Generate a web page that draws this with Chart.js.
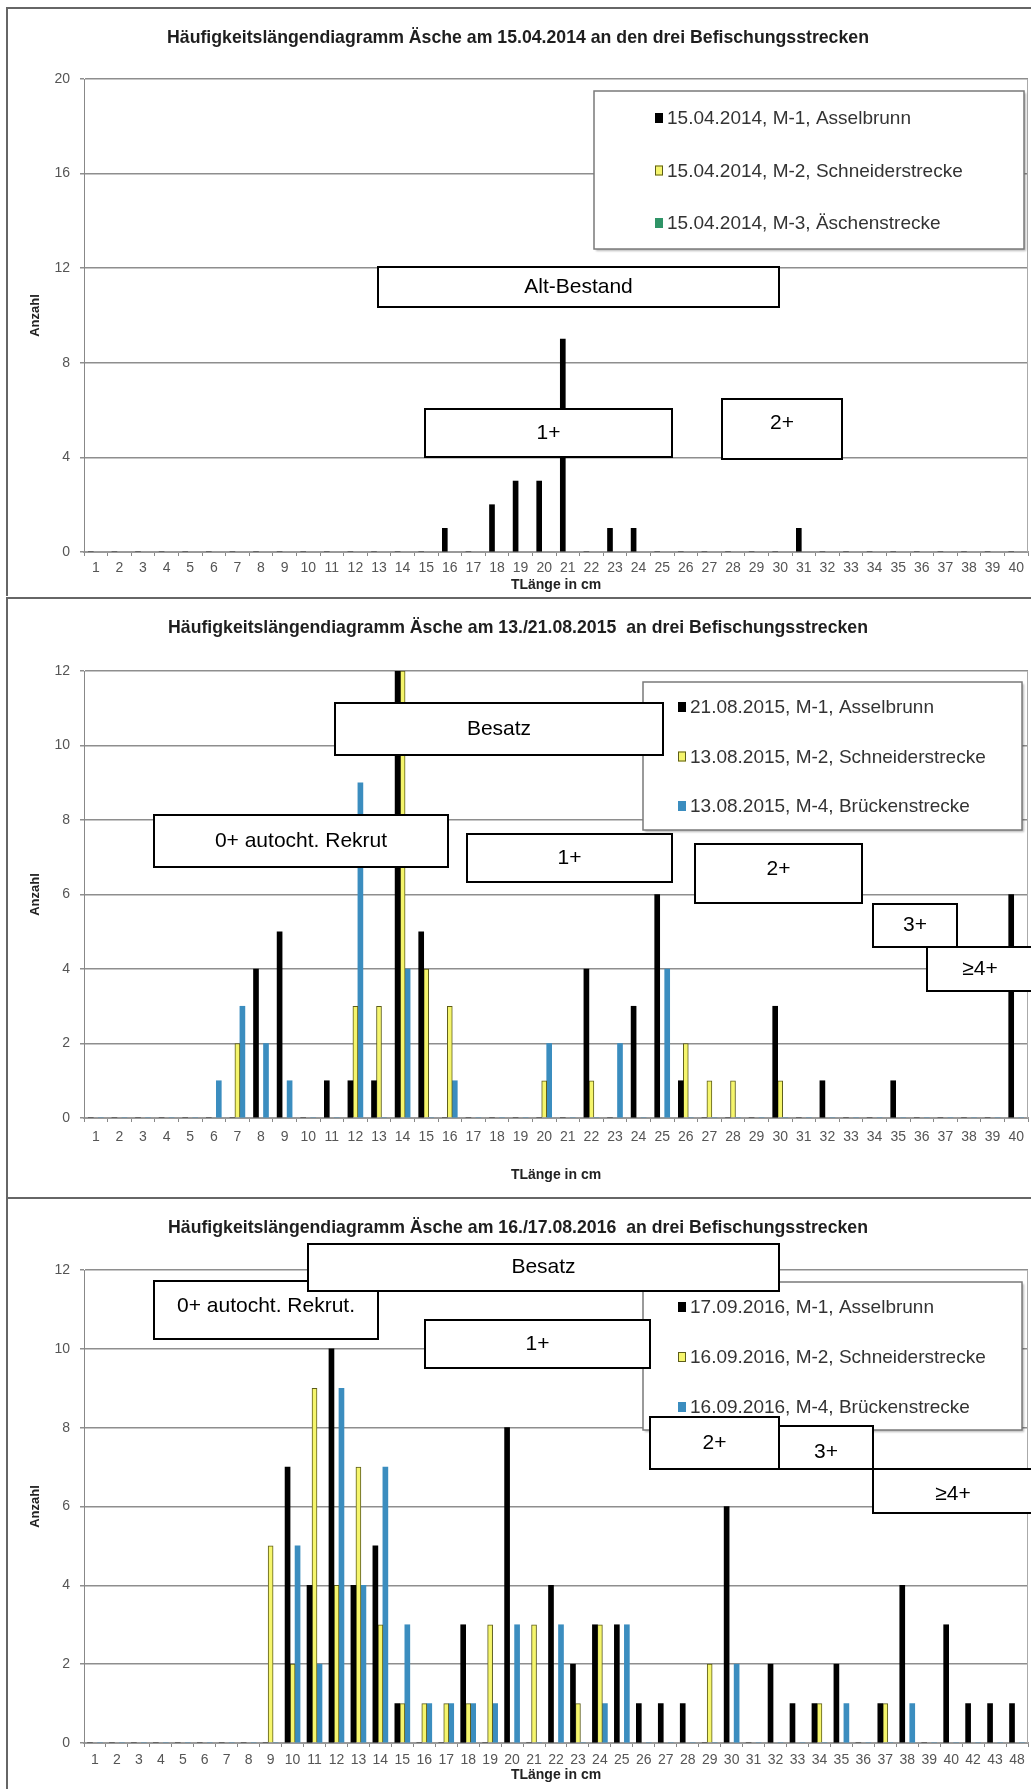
<!DOCTYPE html>
<html lang="de">
<head>
<meta charset="utf-8">
<title>Häufigkeitslängendiagramme Äsche</title>
<script src="https://cdn.jsdelivr.net/npm/chart.js@4.4.1/dist/chart.umd.min.js"></script>
<style>
  html, body { margin: 0; padding: 0; background: #fff; overflow: hidden; }
  body { width: 1031px; height: 1789px; position: relative; }
  .panel { position: absolute; left: 6px; width: 1100px; border-top: 2px solid #666; border-left: 2px solid #666; }
  .panel canvas { display: block; }
</style>
</head>
<body>
<div class="panel" style="top:7px"><canvas id="chart2014" width="1044" height="587"></canvas></div>
<div class="panel" style="top:597px"><canvas id="chart2015" width="1044" height="598"></canvas></div>
<div class="panel" style="top:1197px"><canvas id="chart2016" width="1044" height="590"></canvas></div>
<script>
// Längenklassen (TLänge in cm)
const lengthClasses = ['1','2','3','4','5','6','7','8','9','10','11','12','13','14','15','16','17','18','19','20',
  '21','22','23','24','25','26','27','28','29','30','31','32','33','34','35','36','37','38','39','40'];
const lengthClasses2016 = ['1','2','3','4','5','6','7','8','9','10','11','12','13','14','15','16','17','18','19','20',
  '21','22','23','24','25','26','27','28','29','30','31','32','33','34','35','36','37','38','39','40','42','43','48'];

// 15.04.2014
const names2014 = ['15.04.2014, M-1, Asselbrunn', '15.04.2014, M-2, Schneiderstrecke', '15.04.2014, M-3, Äschenstrecke'];
const m1_2014 = [0,0,0,0,0, 0,0,0,0,0, 0,0,0,0,0, 1,0,2,3,3, 9,0,1,1,0, 0,0,0,0,0, 1,0,0,0,0, 0,0,0,0,0];
const m2_2014 = [];
const m3_2014 = [];

// 13./21.08.2015
const names2015 = ['21.08.2015, M-1, Asselbrunn', '13.08.2015, M-2, Schneiderstrecke', '13.08.2015, M-4, Brückenstrecke'];
const m1_2015 = [0,0,0,0,0, 0,0,4,5,0, 1,1,1,12,5, 0,0,0,0,0, 0,4,0,3,6, 1,0,0,0,3, 0,1,0,0,1, 0,0,0,0,6];
const m2_2015 = [0,0,0,0,0, 0,2,0,0,0, 0,3,3,12,4, 3,0,0,0,1, 0,1,0,0,0, 2,1,1,0,1, 0,0,0,0,0, 0,0,0,0,0];
const m4_2015 = [0,0,0,0,0, 1,3,2,1,0, 0,9,0,4,0, 1,0,0,0,2, 0,0,2,0,4, 0,0,0,0,0, 0,0,0,0,0, 0,0,0,0,0];

// 16./17.08.2016
const names2016 = ['17.09.2016, M-1, Asselbrunn', '16.09.2016, M-2, Schneiderstrecke', '16.09.2016, M-4, Brückenstrecke'];
const m1_2016 = [0,0,0,0,0, 0,0,0,0,7, 4,10,4,5,1, 0,0,3,0,8, 0,4,2,3,3, 1,1,1,0,6, 0,2,1,1,2, 0,1,4,0,3, 1,1,1];
const m2_2016 = [0,0,0,0,0, 0,0,0,5,2, 9,4,7,3,1, 1,1,1,3,0, 3,0,1,3,0, 0,0,0,2,0, 0,0,0,1,0, 0,1,0,0,0, 0,0,0];
const m4_2016 = [0,0,0,0,0, 0,0,0,0,5, 2,9,4,7,3, 1,1,1,1,3, 0,3,0,1,3, 0,0,0,0,2, 0,0,0,0,1, 0,0,1,0,0, 0,0,0];

const BLACK = '#000000';
const YELLOW = '#f5f56c';
const YELLOW_EDGE = '#5c5c1a';
const BLUE = '#3b8dbf';
const GREEN = '#2f9467';
const FONT = '"Liberation Sans", Arial, sans-serif';

Chart.defaults.font.family = FONT;

// legend box drawn inside the plot like in the Excel original
function drawLegend(chart, lg) {
  const ctx = chart.ctx;
  ctx.save();
  ctx.shadowColor = 'rgba(0,0,0,0.28)';
  ctx.shadowOffsetX = 2;
  ctx.shadowOffsetY = 2;
  ctx.shadowBlur = 2;
  ctx.fillStyle = '#fff';
  ctx.fillRect(lg.x, lg.y, lg.w, lg.h);
  ctx.shadowColor = 'transparent';
  ctx.strokeStyle = '#7a7a7a';
  ctx.lineWidth = 1.5;
  ctx.strokeRect(lg.x, lg.y, lg.w, lg.h);
  ctx.font = '19px ' + FONT;
  ctx.textBaseline = 'middle';
  chart.data.datasets.forEach((ds, i) => {
    const y = lg.rowY + i * lg.rowStep;
    ctx.fillStyle = ds.backgroundColor;
    ctx.fillRect(lg.textX - 12, y - 5, 8, 10);
    if (ds.borderWidth) {
      ctx.strokeStyle = ds.borderColor;
      ctx.lineWidth = 1;
      ctx.strokeRect(lg.textX - 11.5, y - 4.5, 7, 9);
    }
    ctx.fillStyle = '#333';
    ctx.fillText(ds.label, lg.textX, y + 1);
  });
  ctx.restore();
}

// the white text boxes (age classes) that sit on top of the bars
function drawBox(ctx, b) {
  ctx.save();
  ctx.fillStyle = '#fff';
  ctx.fillRect(b.x, b.y, b.w, b.h);
  ctx.strokeStyle = '#000';
  ctx.lineWidth = 2;
  ctx.strokeRect(b.x, b.y, b.w, b.h);
  ctx.fillStyle = '#000';
  ctx.font = '21px ' + FONT;
  ctx.textAlign = 'center';
  ctx.textBaseline = 'middle';
  ctx.fillText(b.text, b.x + b.w / 2, b.y + (b.ty || b.h / 2));
  ctx.restore();
}

function makeOverlay(legendLayout, boxes) {
  return {
    id: 'overlay',
    beforeDatasetsDraw(chart) {
      // right edge of the plot area
      const { ctx, chartArea: a } = chart;
      ctx.save();
      ctx.strokeStyle = '#aaa';
      ctx.lineWidth = 1;
      ctx.beginPath();
      ctx.moveTo(a.right - 0.5, a.top);
      ctx.lineTo(a.right - 0.5, a.bottom);
      ctx.stroke();
      ctx.restore();
    },
    afterDraw(chart) {
      drawLegend(chart, legendLayout);
      boxes.forEach(b => drawBox(chart.ctx, b));
    }
  };
}

function makeChart(id, p) {
  const colors = p.colors;
  return new Chart(document.getElementById(id), {
    type: 'bar',
    data: {
      labels: p.labels,
      datasets: p.series.map((data, i) => ({
        label: p.names[i],
        data: data,
        backgroundColor: colors[i],
        borderColor: colors[i] === YELLOW ? YELLOW_EDGE : colors[i],
        borderWidth: colors[i] === YELLOW ? 1 : 0,
        barThickness: 5
      }))
    },
    options: {
      responsive: false,
      animation: false,
      layout: { padding: { top: 0, right: 24, bottom: 0, left: 0 }, autoPadding: false },
      plugins: {
        legend: { display: false },
        tooltip: { enabled: false },
        title: {
          display: true,
          text: p.title,
          color: '#1e1e1e',
          font: { size: 17.7, weight: 'bold' },
          padding: { top: 18.4, bottom: p.titleGap }
        }
      },
      scales: {
        x: {
          grid: { display: true, drawOnChartArea: false, drawTicks: true, tickLength: 4, color: '#888' },
          border: { display: true, color: '#999', width: 2 },
          ticks: { autoSkip: false, maxRotation: 0, minRotation: 0, padding: p.xTickPad, color: '#555', font: { size: 14 } },
          title: { display: true, text: 'TLänge in cm', color: '#222', font: { size: 14, weight: 'bold' }, padding: { top: 0, bottom: p.xTitlePad } },
          afterFit(scale) { scale.height = p.xHeight; }
        },
        y: {
          min: 0,
          max: p.yMax,
          ticks: { stepSize: p.yStep, padding: 10, color: '#555', font: { size: 14 } },
          grid: { color: '#8e8e8e', lineWidth: 1.5, tickLength: 4 },
          border: { color: '#888', width: 1 },
          title: { display: true, text: 'Anzahl', color: '#222', font: { size: 13, weight: 'bold' }, padding: { top: 20, bottom: 0 } },
          afterFit(scale) { scale.width = 76; }
        }
      }
    },
    plugins: [makeOverlay(p.legend, p.boxes)]
  });
}

makeChart('chart2014', {
  title: 'Häufigkeitslängendiagramm Äsche am 15.04.2014 an den drei Befischungsstrecken',
  labels: lengthClasses,
  names: names2014,
  series: [m1_2014, m2_2014, m3_2014],
  colors: [BLACK, YELLOW, GREEN],
  yMax: 20, yStep: 4,
  titleGap: 30.4, xHeight: 44, xTickPad: 3.6, xTitlePad: 2.6,
  legend: { x: 586, y: 82, w: 430, h: 158, textX: 659, rowY: 109, rowStep: 52.5 },
  boxes: [
    { text: 'Alt-Bestand', x: 370, y: 258, w: 401, h: 40 },
    { text: '1+', x: 417, y: 400, w: 247, h: 48 },
    { text: '2+', x: 714, y: 390, w: 120, h: 60, ty: 24 }
  ]
});

makeChart('chart2015', {
  title: 'Häufigkeitslängendiagramm Äsche am 13./21.08.2015  an drei Befischungsstrecken',
  labels: lengthClasses,
  names: names2015,
  series: [m1_2015, m2_2015, m4_2015],
  colors: [BLACK, YELLOW, BLUE],
  yMax: 12, yStep: 2,
  titleGap: 32.4, xHeight: 79, xTickPad: 6.6, xTitlePad: 13.6,
  legend: { x: 635, y: 83, w: 379, h: 148, textX: 682, rowY: 108, rowStep: 49.5 },
  boxes: [
    { text: 'Besatz', x: 327, y: 104, w: 328, h: 52 },
    { text: '0+ autocht. Rekrut', x: 146, y: 216, w: 294, h: 52 },
    { text: '1+', x: 459, y: 235, w: 205, h: 48 },
    { text: '2+', x: 687, y: 245, w: 167, h: 59, ty: 25 },
    { text: '3+', x: 865, y: 305, w: 84, h: 43 },
    { text: '≥4+', x: 919, y: 348, w: 106, h: 44 }
  ]
});

makeChart('chart2016', {
  title: 'Häufigkeitslängendiagramm Äsche am 16./17.08.2016  an drei Befischungsstrecken',
  labels: lengthClasses2016,
  names: names2016,
  series: [m1_2016, m2_2016, m4_2016],
  colors: [BLACK, YELLOW, BLUE],
  yMax: 12, yStep: 2,
  titleGap: 31.4, xHeight: 46, xTickPad: 4.6, xTitlePad: 5.6,
  legend: { x: 635, y: 83, w: 379, h: 148, textX: 682, rowY: 108, rowStep: 50 },
  boxes: [
    { text: '0+ autocht. Rekrut.', x: 146, y: 82, w: 224, h: 58, ty: 25 },
    { text: 'Besatz', x: 300, y: 45, w: 471, h: 47 },
    { text: '1+', x: 417, y: 121, w: 225, h: 48 },
    { text: '2+', x: 642, y: 218, w: 129, h: 52 },
    { text: '3+', x: 771, y: 227, w: 94, h: 43, ty: 26 },
    { text: '≥4+', x: 865, y: 270, w: 160, h: 44, ty: 25 }
  ]
});
</script>
</body>
</html>
